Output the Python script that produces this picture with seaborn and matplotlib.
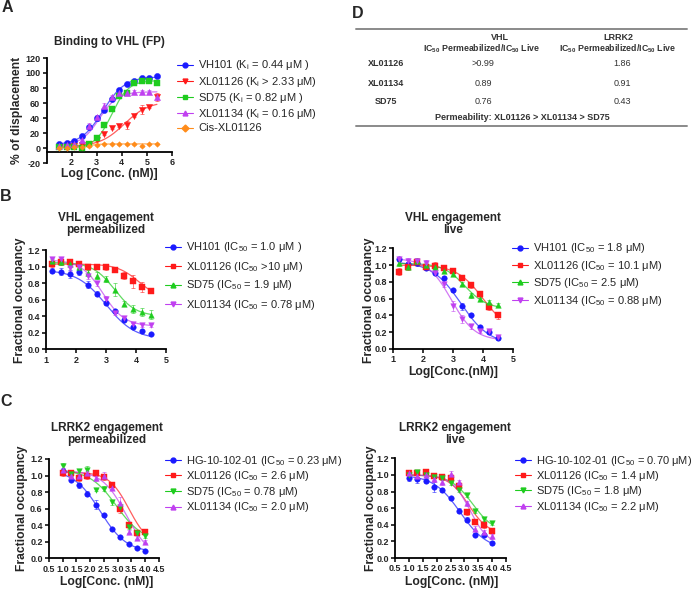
import numpy as np
import pandas as pd
import matplotlib
matplotlib.use("Agg")
import matplotlib.pyplot as plt
from matplotlib.lines import Line2D
import seaborn as sns

# ---------------- DATA ----------------
# Panel A: Binding to VHL (FP)
a_x = [1.5, 1.8, 2.1, 2.4, 2.7, 3.0, 3.3, 3.6, 3.9, 4.2, 4.5, 4.8, 5.1, 5.4]
a_vh101 = [6, 7, 9.5, 16, 28, 39.5, 51, 66, 78, 86, 89, 93, 94, 95.5]
a_xl01126 = [2, 1, 3, 4, 6, 11, 19, 27, 30, 31, 43, 51, 55, 68]
a_sd75 = [1, 2, 1, 0, 6, 14, 31, 52, 70, 74, 87, 90, 89, 87]
a_xl01134 = [3, 4, 5, 11, 30, 41, 56, 68, 73, 74, 75, 75, 75, 68]
a_cis = [0, 0, 1, 1, 3, 4, 6, 6, 5, 5, 5, 3, 5, 6]
a_err_vh101 = [1, 1, 1, 2, 3, 3, 2, 2, 2, 1, 1, 1, 1, 1]
a_err_xl01126 = [1, 1, 1, 1, 1, 2, 2, 2, 2, 5, 2, 6, 2, 5]
a_err_sd75 = [1, 1, 1, 1, 1, 2, 2, 2, 2, 1, 1, 1, 1, 1]
a_err_xl01134 = [1, 1, 1, 2, 3, 3, 4, 3, 2, 2, 2, 2, 2, 4]
a_err_cis = [1, 1, 1, 1, 1, 1, 1, 1, 1, 1, 1, 1, 1, 1]
a_labels = ["VH101 (K$_\\mathregular{i}$ = 0.44 μM )", "XL01126 (K$_\\mathregular{i}$ > 2.33 μM)",
            "SD75 (K$_\\mathregular{i}$ = 0.82 μM )", "XL01134 (K$_\\mathregular{i}$ = 0.16 μM)", "Cis-XL01126"]
# fit parameters: bottom, top, log EC50, hill
a_fit_vh101 = [4, 95, 3.25, 1.0]
a_fit_xl01126 = [2, 62, 4.1, 0.9]
a_fit_sd75 = [0, 90, 3.6, 1.3]
a_fit_xl01134 = [3, 75, 3.1, 1.2]
a_fit_cis = [1, 5.5, 2.7, 2.0]

# Panel B: VHL engagement
b_x = [1.2, 1.5, 1.8, 2.1, 2.4, 2.7, 3.0, 3.3, 3.6, 3.9, 4.2, 4.5]
bl_vh101 = [0.95, 0.94, 0.91, 0.93, 0.78, 0.67, 0.56, 0.46, 0.36, 0.27, 0.22, 0.18]
bl_xl01126 = [1.03, 1.05, 1.05, 1.03, 0.99, 0.99, 0.99, 0.96, 0.89, 0.82, 0.75, 0.70]
bl_sd75 = [1.07, 1.05, 1.03, 0.99, 0.92, 0.89, 0.85, 0.72, 0.55, 0.49, 0.45, 0.42]
bl_xl01134 = [1.09, 1.09, 0.98, 1.00, 0.88, 0.80, 0.61, 0.44, 0.38, 0.30, 0.29, 0.29]
bl_err_vh101 = [0.03, 0.04, 0.05, 0.03, 0.04, 0.03, 0.02, 0.02, 0.02, 0.01, 0.01, 0.01]
bl_err_xl01126 = [0.04, 0.03, 0.02, 0.03, 0.03, 0.02, 0.03, 0.02, 0.04, 0.08, 0.06, 0.02]
bl_err_sd75 = [0.02, 0.03, 0.02, 0.03, 0.04, 0.04, 0.04, 0.08, 0.03, 0.05, 0.05, 0.05]
bl_err_xl01134 = [0.03, 0.02, 0.03, 0.03, 0.03, 0.03, 0.03, 0.02, 0.02, 0.02, 0.02, 0.02]
bl_fit_vh101 = [0.12, 0.96, 3.0, -0.9]
bl_fit_xl01126 = [0.6, 1.03, 4.1, -1.2]
bl_fit_sd75 = [0.40, 1.05, 3.28, -1.2]
bl_fit_xl01134 = [0.28, 1.08, 2.89, -1.2]
bl_labels = ["VH101 (IC$_{50}$ = 1.0 μM )", "XL01126 (IC$_{50}$ >10 μM)",
             "SD75 (IC$_{50}$ = 1.9 μM)", "XL01134 (IC$_{50}$ = 0.78 μM)"]

br_vh101 = [1.07, 1.01, 1.02, 0.96, 0.91, 0.85, 0.70, 0.51, 0.41, 0.26, 0.20, 0.13]
br_xl01126 = [0.92, 0.98, 1.04, 0.98, 0.99, 0.96, 0.93, 0.85, 0.76, 0.65, 0.50, 0.40]
br_sd75 = [1.02, 0.98, 1.05, 1.00, 0.98, 0.93, 0.89, 0.78, 0.64, 0.59, 0.56, 0.53]
br_xl01134 = [1.07, 1.05, 1.05, 1.03, 0.91, 0.78, 0.51, 0.36, 0.27, 0.22, 0.21, 0.14]
br_err_vh101 = [0.02, 0.03, 0.03, 0.02, 0.02, 0.02, 0.02, 0.04, 0.02, 0.02, 0.02, 0.02]
br_err_xl01126 = [0.04, 0.04, 0.03, 0.03, 0.05, 0.04, 0.03, 0.03, 0.03, 0.03, 0.04, 0.04]
br_err_sd75 = [0.03, 0.03, 0.04, 0.03, 0.03, 0.03, 0.02, 0.02, 0.03, 0.02, 0.02, 0.02]
br_err_xl01134 = [0.03, 0.03, 0.03, 0.03, 0.03, 0.04, 0.06, 0.05, 0.03, 0.03, 0.02, 0.02]
br_fit_vh101 = [0.05, 1.04, 3.26, -0.9]
br_fit_xl01126 = [0.2, 1.0, 4.0, -1.0]
br_fit_sd75 = [0.48, 1.02, 3.4, -1.2]
br_fit_xl01134 = [0.1, 1.08, 2.94, -1.1]
br_labels = ["VH101 (IC$_{50}$ = 1.8 μM)", "XL01126 (IC$_{50}$ = 10.1 μM)",
             "SD75 (IC$_{50}$ = 2.5 μM)", "XL01134 (IC$_{50}$ = 0.88 μM)"]

# Panel C: LRRK2 engagement
c_x = [1.0, 1.3, 1.6, 1.9, 2.2, 2.5, 2.8, 3.1, 3.4, 3.7, 4.0]
cl_hg = [1.06, 0.95, 0.88, 0.78, 0.65, 0.52, 0.35, 0.26, 0.17, 0.13, 0.09]
cl_xl01126 = [1.03, 1.03, 0.97, 0.99, 1.03, 0.98, 0.89, 0.60, 0.40, 0.31, 0.32]
cl_sd75 = [1.11, 1.02, 1.05, 1.07, 0.83, 0.84, 0.68, 0.62, 0.38, 0.30, 0.27]
cl_xl01134 = [1.07, 1.00, 1.00, 1.03, 0.97, 1.00, 0.85, 0.67, 0.32, 0.25, 0.20]
cl_err_hg = [0.03, 0.02, 0.03, 0.03, 0.06, 0.02, 0.02, 0.01, 0.01, 0.01, 0.01]
cl_err_xl01126 = [0.03, 0.03, 0.03, 0.03, 0.04, 0.03, 0.03, 0.05, 0.03, 0.02, 0.02]
cl_err_sd75 = [0.04, 0.03, 0.03, 0.05, 0.02, 0.03, 0.03, 0.03, 0.03, 0.02, 0.02]
cl_err_xl01134 = [0.02, 0.02, 0.02, 0.03, 0.03, 0.04, 0.03, 0.07, 0.02, 0.02, 0.02]
cl_fit_hg = [0.07, 1.07, 2.36, -0.9]
cl_fit_xl01126 = [0.15, 1.04, 3.41, -1.2]
cl_fit_sd75 = [0.2, 1.07, 2.95, -0.9]
cl_fit_xl01134 = [0.0, 1.06, 3.3, -1.0]
cl_labels = ["HG-10-102-01 (IC$_{50}$ = 0.23 μM)", "XL01126 (IC$_{50}$ = 2.6 μM)",
             "SD75 (IC$_{50}$ = 0.78 μM)", "XL01134 (IC$_{50}$ = 2.0 μM)"]

cr_hg = [0.96, 0.95, 0.93, 0.85, 0.82, 0.72, 0.57, 0.46, 0.28, 0.28, 0.18]
cr_xl01126 = [1.02, 1.02, 1.03, 0.99, 0.97, 0.96, 0.87, 0.55, 0.43, 0.40, 0.33]
cr_sd75 = [1.00, 1.04, 1.00, 0.98, 0.96, 0.90, 0.82, 0.76, 0.56, 0.47, 0.42]
cr_xl01134 = [1.02, 0.99, 1.00, 0.95, 0.91, 1.01, 0.91, 0.66, 0.35, 0.31, 0.26]
cr_err_hg = [0.03, 0.05, 0.03, 0.06, 0.02, 0.02, 0.03, 0.03, 0.02, 0.02, 0.02]
cr_err_xl01126 = [0.02, 0.02, 0.03, 0.03, 0.03, 0.04, 0.03, 0.03, 0.02, 0.04, 0.03]
cr_err_sd75 = [0.02, 0.02, 0.02, 0.02, 0.02, 0.02, 0.02, 0.02, 0.02, 0.02, 0.02]
cr_err_xl01134 = [0.03, 0.03, 0.03, 0.03, 0.03, 0.04, 0.03, 0.03, 0.03, 0.03, 0.03]
cr_fit_hg = [0.1, 1.0, 2.85, -0.9]
cr_fit_xl01126 = [0.28, 1.0, 3.15, -1.2]
cr_fit_sd75 = [0.3, 1.0, 3.3, -1.1]
cr_fit_xl01134 = [0.15, 1.0, 3.2, -1.3]
cr_labels = ["HG-10-102-01 (IC$_{50}$ = 0.70 μM)", "XL01126 (IC$_{50}$ = 1.4 μM)",
             "SD75 (IC$_{50}$ = 1.8 μM)", "XL01134 (IC$_{50}$ = 2.2 μM)"]

# Panel D table
d_cols = ["VHL", "LRRK2"]
d_rows = ["XL01126", "XL01134", "SD75"]
d_vhl = [">0.99", "0.89", "0.76"]
d_lrrk2 = ["1.86", "0.91", "0.43"]
d_note = "Permeability: XL01126 > XL01134 > SD75"

# ---------------- STYLE ----------------
sns.set_theme(style="ticks")
plt.rcParams['font.family'] = ['Liberation Sans', 'DejaVu Sans']
plt.rcParams['mathtext.fontset'] = 'custom'
plt.rcParams['mathtext.rm'] = 'Liberation Sans'
plt.rcParams['mathtext.it'] = 'Liberation Sans:italic'
plt.rcParams['mathtext.bf'] = 'Liberation Sans:bold'
plt.rcParams['axes.unicode_minus'] = False

BLUE = '#1a1aff'
RED = '#ff1a1a'
GREEN = '#1fcc1f'
PURPLE = '#c040f0'
ORANGE = '#ff8c1a'

W, H = 697, 589
fig = plt.figure(figsize=(W / 100, H / 100), dpi=100)


def fx(x):
    return x / W


def fy(y):
    return 1 - y / H


def make_axes(l, r, t, b):
    return fig.add_axes([l / W, 1 - b / H, (r - l) / W, (b - t) / H])


def sigmoid(x, p):
    bottom, top, mid, hill = p
    return bottom + (top - bottom) / (1 + 10 ** ((mid - x) * hill))


def draw_series(ax, x, y, err, color, marker, fit, ms):
    xs = np.linspace(x[0], x[-1], 200)
    curve = pd.DataFrame({'x': xs, 'y': sigmoid(xs, fit)})
    sns.lineplot(data=curve, x='x', y='y', ax=ax, color=color, lw=0.9, alpha=0.7)
    ax.errorbar(x, y, yerr=err, fmt='none', ecolor=color, elinewidth=0.7,
                capsize=1.6, capthick=0.7, alpha=0.55)
    pts = pd.DataFrame({'x': x, 'y': y})
    sns.scatterplot(data=pts, x='x', y='y', ax=ax, color=color, marker=marker,
                    s=ms, edgecolor=color, linewidth=0.3, zorder=3)


def style_axes(ax, xticks, xlabels, yticks, ylabels, xlim, ylim, xspine=None):
    for s in ['top', 'right']:
        ax.spines[s].set_visible(False)
    if xspine is not None:
        ax.spines['bottom'].set_position(('data', xspine))
    ax.set_xlim(*xlim)
    ax.set_ylim(*ylim)
    ax.set_xticks(xticks, labels=xlabels, fontweight='bold', fontsize=6.5)
    ax.set_yticks(yticks, labels=ylabels, fontweight='bold', fontsize=6.5)
    ax.set_xlabel('')
    ax.set_ylabel('')
    for s in ['left', 'bottom']:
        ax.spines[s].set_linewidth(1.3)
        ax.spines[s].set_color('black')
    ax.tick_params(length=3, width=1.1, pad=1.5, color='black')
    ax.set_facecolor('none')


def legend(handles, x_left, y_top, spacing):
    fig.legend(handles=handles, loc='upper left', bbox_to_anchor=(fx(x_left), fy(y_top)),
               frameon=False, fontsize=8, handlelength=1.4, handletextpad=0.5,
               labelspacing=spacing, borderpad=0, borderaxespad=0)


def handle(color, marker, label):
    return Line2D([], [], color=color, marker=marker, markersize=3.5, lw=0.8, label=label)


TFS = 8.5   # title size
LFS = 8.7   # axis label size

# ---------------- PANEL A ----------------
axA = make_axes(46.5, 172, 58, 163)
a_series = [
    (a_vh101, a_err_vh101, BLUE, 'o', a_fit_vh101),
    (a_xl01126, a_err_xl01126, RED, 'v', a_fit_xl01126),
    (a_sd75, a_err_sd75, GREEN, 's', a_fit_sd75),
    (a_xl01134, a_err_xl01134, PURPLE, '^', a_fit_xl01134),
    (a_cis, a_err_cis, ORANGE, 'D', a_fit_cis),
]
for y, e, c, m, f in a_series:
    draw_series(axA, a_x, y, e, c, m, f, 8 if m == 'D' else 20)
style_axes(axA, [2, 3, 4, 5, 6], ['2', '3', '4', '5', '6'],
           list(range(-20, 121, 20)), [str(v) for v in range(-20, 121, 20)], (1, 6), (-20, 120),
           xspine=-5)
fig.text(fx(109), fy(42), "Binding to VHL (FP)", ha='center', va='center', fontsize=TFS, fontweight='bold')
fig.text(fx(17), fy(110), "% of displacement", ha='center', va='center', rotation=90,
         fontsize=LFS, fontweight='bold')
fig.text(fx(109.5), fy(174), "Log [Conc. (nM)]", ha='center', va='center', fontsize=LFS, fontweight='bold')
legend([handle(c, m, l) for (y, e, c, m, f), l in zip(a_series, a_labels)], 177, 58.5, 0.2)

# ---------------- PANEL B ----------------
b_xt = [1, 2, 3, 4, 5]
occ_t = [0.0, 0.2, 0.4, 0.6, 0.8, 1.0, 1.2]
occ_l = [f"{v:.1f}" for v in occ_t]

axBL = make_axes(46, 166, 250, 349.3)
bl_series = [
    (bl_vh101, bl_err_vh101, BLUE, 'o', bl_fit_vh101),
    (bl_xl01126, bl_err_xl01126, RED, 's', bl_fit_xl01126),
    (bl_sd75, bl_err_sd75, GREEN, '^', bl_fit_sd75),
    (bl_xl01134, bl_err_xl01134, PURPLE, 'v', bl_fit_xl01134),
]
for y, e, c, m, f in bl_series:
    draw_series(axBL, b_x, y, e, c, m, f, 16)
style_axes(axBL, b_xt, [str(v) for v in b_xt], occ_t, occ_l, (1, 5), (0, 1.2))
fig.text(fx(106), fy(224), "VHL engagement\npermeabilized", ha='center', va='center',
         fontsize=TFS, fontweight='bold', linespacing=1.1)
fig.text(fx(20), fy(300), "Fractional occupancy", ha='center', va='center', rotation=90,
         fontsize=LFS, fontweight='bold')
legend([handle(c, m, l) for (y, e, c, m, f), l in zip(bl_series, bl_labels)], 165, 240.5, 0.45)

axBR = make_axes(393, 513, 248.3, 349)
br_series = [
    (br_vh101, br_err_vh101, BLUE, 'o', br_fit_vh101),
    (br_xl01126, br_err_xl01126, RED, 's', br_fit_xl01126),
    (br_sd75, br_err_sd75, GREEN, '^', br_fit_sd75),
    (br_xl01134, br_err_xl01134, PURPLE, 'v', br_fit_xl01134),
]
for y, e, c, m, f in br_series:
    draw_series(axBR, b_x, y, e, c, m, f, 16)
style_axes(axBR, b_xt, [str(v) for v in b_xt], occ_t, occ_l, (1, 5), (0, 1.2))
fig.text(fx(453), fy(224), "VHL engagement\nlive", ha='center', va='center',
         fontsize=TFS, fontweight='bold', linespacing=1.1)
fig.text(fx(369), fy(300), "Fractional occupancy", ha='center', va='center', rotation=90,
         fontsize=LFS, fontweight='bold')
fig.text(fx(453), fy(372), "Log[Conc.(nM)]", ha='center', va='center', fontsize=LFS, fontweight='bold')
legend([handle(c, m, l) for (y, e, c, m, f), l in zip(br_series, br_labels)], 512, 241.5, 0.31)

# ---------------- PANEL C ----------------
c_xt = [0.5, 1.0, 1.5, 2.0, 2.5, 3.0, 3.5, 4.0, 4.5]
c_xl = [f"{v:.1f}" for v in c_xt]

axCL = make_axes(49, 159, 459, 558.3)
cl_series = [
    (cl_hg, cl_err_hg, BLUE, 'o', cl_fit_hg),
    (cl_xl01126, cl_err_xl01126, RED, 's', cl_fit_xl01126),
    (cl_sd75, cl_err_sd75, GREEN, 'v', cl_fit_sd75),
    (cl_xl01134, cl_err_xl01134, PURPLE, '^', cl_fit_xl01134),
]
for y, e, c, m, f in cl_series:
    draw_series(axCL, c_x, y, e, c, m, f, 16)
style_axes(axCL, c_xt, c_xl, occ_t, occ_l, (0.5, 4.5), (0, 1.2))
fig.text(fx(107), fy(434), "LRRK2 engagement\npermeabilized", ha='center', va='center',
         fontsize=TFS, fontweight='bold', linespacing=1.1)
fig.text(fx(22), fy(508), "Fractional occupancy", ha='center', va='center', rotation=90,
         fontsize=LFS, fontweight='bold')
fig.text(fx(107), fy(582), "Log[Conc. (nM)]", ha='center', va='center', fontsize=LFS, fontweight='bold')
legend([handle(c, m, l) for (y, e, c, m, f), l in zip(cl_series, cl_labels)], 165, 453.5, 0.15)

axCR = make_axes(395, 506, 458.3, 558)
cr_series = [
    (cr_hg, cr_err_hg, BLUE, 'o', cr_fit_hg),
    (cr_xl01126, cr_err_xl01126, RED, 's', cr_fit_xl01126),
    (cr_sd75, cr_err_sd75, GREEN, 'v', cr_fit_sd75),
    (cr_xl01134, cr_err_xl01134, PURPLE, '^', cr_fit_xl01134),
]
for y, e, c, m, f in cr_series:
    draw_series(axCR, c_x, y, e, c, m, f, 16)
style_axes(axCR, c_xt, c_xl, occ_t, occ_l, (0.5, 4.5), (0, 1.2))
fig.text(fx(455), fy(434), "LRRK2 engagement\nlive", ha='center', va='center',
         fontsize=TFS, fontweight='bold', linespacing=1.1)
fig.text(fx(371), fy(508), "Fractional occupancy", ha='center', va='center', rotation=90,
         fontsize=LFS, fontweight='bold')
fig.text(fx(452), fy(582), "Log[Conc. (nM)]", ha='center', va='center', fontsize=LFS, fontweight='bold')
legend([handle(c, m, l) for (y, e, c, m, f), l in zip(cr_series, cr_labels)], 515, 453.5, 0.12)

# ---------------- PANEL D (table) ----------------
TC = '#333333'
for yy, lw in [(29, 1.4), (126, 1.4)]:
    fig.add_artist(Line2D([fx(356), fx(687)], [fy(yy), fy(yy)], color='#8a8a8a', lw=lw))
sub_hdr = "IC$_{\\mathbf{50}}$ Permeabilized/IC$_{\\mathbf{50}}$ Live"
for cx, sx, name in zip([500, 618], [482, 618], d_cols):
    fig.text(fx(cx), fy(37), name, ha='center', va='center', fontsize=6.5, fontweight='bold', color=TC)
    fig.text(fx(sx), fy(48.5), sub_hdr, ha='center', va='center', fontsize=6.3, fontweight='bold', color=TC)
for ry, rn, v1, v2 in zip([64, 84, 102], d_rows, d_vhl, d_lrrk2):
    fig.text(fx(386), fy(ry), rn, ha='center', va='center', fontsize=6.5, fontweight='bold', color=TC)
    fig.text(fx(483), fy(ry), v1, ha='center', va='center', fontsize=6.5, color=TC)
    fig.text(fx(622), fy(ry), v2, ha='center', va='center', fontsize=6.5, color=TC)
fig.text(fx(522), fy(118), d_note, ha='center', va='center', fontsize=6.5, fontweight='bold', color=TC)

# ---------------- Panel letters ----------------
for lx, ly, letter in [(7, 8, 'A'), (6, 197, 'B'), (6, 402, 'C'), (358, 14, 'D')]:
    fig.text(fx(lx), fy(ly), letter, ha='center', va='center', fontsize=11.5, fontweight='bold')

fig.savefig("out.png", dpi=100)
